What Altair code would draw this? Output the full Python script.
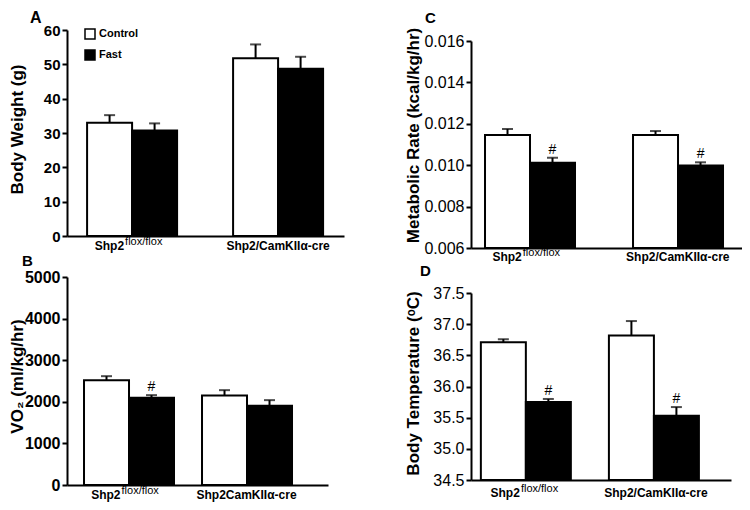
import altair as alt
import pandas as pd

FONT = "Liberation Sans"
conditions = ["Control", "Fast"]

# Panel A: body weight
a_groups = ["Shp2flox/flox", "Shp2/CamKIIα-cre"]
a_mean = [33.0, 30.7, 51.8, 48.7]
a_err = [2.2, 2.1, 4.0, 3.5]
a_sig = [0, 0, 0, 0]
a_ticks = [0, 10, 20, 30, 40, 50, 60]

# Panel C: metabolic rate
c_groups = ["Shp2flox/flox", "Shp2/CamKIIα-cre"]
c_mean = [0.01146, 0.01012, 0.01146, 0.00998]
c_err = [0.00029, 0.00024, 0.00019, 0.00016]
c_sig = [0, 1, 0, 1]
c_ticks = [0.006, 0.008, 0.010, 0.012, 0.014, 0.016]

# Panel B: VO2
b_groups = ["Shp2flox/flox", "Shp2CamKIIα-cre"]
b_mean = [2520, 2095, 2153, 1904]
b_err = [96, 65, 127, 136]
b_sig = [0, 1, 0, 0]
b_ticks = [0, 1000, 2000, 3000, 4000, 5000]

# Panel D: body temperature
d_groups = ["Shp2flox/flox", "Shp2/CamKIIα-cre"]
d_mean = [36.71, 35.75, 36.82, 35.53]
d_err = [0.05, 0.05, 0.23, 0.14]
d_sig = [0, 1, 0, 1]
d_ticks = [34.5, 35.0, 35.5, 36.0, 36.5, 37.0, 37.5]

# label pieces (main text + superscript)
a_main = ["Shp2", "Shp2/CamKIIα-cre"]
b_main = ["Shp2", "Shp2CamKIIα-cre"]
sup_text = ["flox/flox", ""]


def panel(letter, groups, mains, means, errs, sig, ticks, fmt, title,
          W, H, top, xs, leg, letpos, tpos, lab_w, lab_size, lab_dy):
    rows = []
    for gi, g in enumerate(groups):
        for ci, c in enumerate(conditions):
            k = gi * 2 + ci
            rows.append(dict(group=g, cond=c, mean=means[k],
                             upper=means[k] + errs[k],
                             mark="#" if sig[k] else ""))
    df = pd.DataFrame(rows)
    ymin, ymax = ticks[0], ticks[-1]
    xenc = alt.X("group:N", sort=groups,
                 scale=alt.Scale(paddingInner=xs[0], paddingOuter=xs[1], align=xs[2]),
                 axis=alt.Axis(title=None, labels=False, ticks=False, domain=True,
                               domainColor="black", domainWidth=2, grid=False))
    xoff = alt.XOffset("cond:N", sort=conditions,
                       scale=alt.Scale(paddingInner=0, paddingOuter=0))
    yscale = alt.Scale(domain=[ymin, ymax], range=[H, top], nice=False, zero=False)
    yaxis = alt.Axis(title=title, values=ticks, format=fmt, grid=False,
                     domainColor="black", domainWidth=2, tickColor="black",
                     tickWidth=2, tickSize=5, labelFont=FONT, labelFontSize=lab_size,
                     labelFontWeight=lab_w, labelColor="black", labelPadding=2,
                     titleFont=FONT, titleFontSize=17, titleFontWeight="bold",
                     titleColor="black", titleX=tpos[0], titleY=tpos[1],
                     titleBaseline="middle", titleAngle=270)
    base = alt.Chart(df)
    bars = base.mark_bar(stroke="black", strokeWidth=2).encode(
        x=xenc, xOffset=xoff,
        y=alt.Y("mean:Q", scale=yscale, axis=yaxis),
        y2=alt.datum(ymin),
        fill=alt.Fill("cond:N", sort=conditions,
                      scale=alt.Scale(domain=conditions, range=["white", "black"]),
                      legend=alt.Legend(orient="none", legendX=leg[0], legendY=leg[1],
                                        title=None, symbolType="square", symbolSize=100,
                                        symbolStrokeColor="black", symbolStrokeWidth=1.5,
                                        symbolOpacity=1, labelFont=FONT, labelFontSize=11,
                                        labelFontWeight="bold", labelColor="black",
                                        labelOffset=3, rowPadding=leg[2], padding=0)))
    whisk = base.mark_rule(color="black", strokeWidth=2).encode(
        x=xenc, xOffset=xoff,
        y=alt.Y("mean:Q", scale=yscale, axis=yaxis), y2="upper:Q")
    cap = base.mark_tick(color="black", thickness=2, size=11).encode(
        x=xenc, xOffset=xoff, y=alt.Y("upper:Q", scale=yscale, axis=yaxis))
    hashes = base.transform_filter("datum.mark != ''").mark_text(
        baseline="alphabetic", dy=-4, font=FONT, fontSize=14, color="black").encode(
        x=xenc, xOffset=xoff, y=alt.Y("upper:Q", scale=yscale, axis=yaxis),
        text="mark:N")
    ldf = pd.DataFrame({"group": groups, "main": mains, "sup": sup_text})
    lbase = alt.Chart(ldf)
    l1 = lbase.transform_filter(alt.datum.group == groups[0]).mark_text(
        align="right", dx=-8, baseline="alphabetic", font=FONT, fontSize=12,
        fontWeight="bold", color="black").encode(
        x=xenc, y=alt.value(H + lab_dy), text="main:N")
    l2 = lbase.transform_filter(alt.datum.group == groups[0]).mark_text(
        align="left", dx=-7, dy=-5, baseline="alphabetic", font=FONT, fontSize=11,
        color="black").encode(
        x=xenc, y=alt.value(H + lab_dy), text="sup:N")
    l3 = lbase.transform_filter(alt.datum.group == groups[1]).mark_text(
        align="center", baseline="alphabetic", font=FONT, fontSize=12,
        fontWeight="bold", color="black").encode(
        x=xenc, y=alt.value(H + lab_dy), text="main:N")
    let = alt.Chart(pd.DataFrame({"letter": [letter]})).mark_text(
        align="left", baseline="alphabetic", font=FONT, fontSize=letpos[2],
        fontWeight="bold", color="black").encode(
        x=alt.value(letpos[0]), y=alt.value(letpos[1]), text="letter:N")
    return alt.layer(bars, whisk, cap, hashes, l1, l2, l3, let).properties(
        width=W, height=H)


pA = panel("A", a_groups, a_main, a_mean, a_err, a_sig, a_ticks, "d", "Body Weight (g)",
           277, 206, 0, (0.3836, 0.1404, 0.49), (17, -2, 5), (-37, -7, 16),
           (-50, 99), "bold", 15, 14)
pC = panel("C", c_groups, a_main, c_mean, c_err, c_sig, c_ticks, ".3f",
           "Metabolic Rate (kcal/kg/hr)",
           276, 218, 11, (0.3953, 0.130, 0.364), (17, 19, 5), (-46, -7, 15),
           (-58, 105), "normal", 16, 13)
pB = panel("B", b_groups, b_main, b_mean, b_err, b_sig, b_ticks, "d", "VO₂ (ml/kg/hr)",
           261, 208, 0, (0.2458, 0.2288, 0.315), (20, 4, 7), (-45, -11, 15),
           (-50, 99), "bold", 16, 14)
pD = panel("D", d_groups, a_main, d_mean, d_err, d_sig, d_ticks, ".1f",
           "Body Temperature (ᵒC)",
           260, 203, 16, (0.2656, 0.148, 0.26), (15, 12, 6), (-51, -1, 15),
           (-58, 106), "normal", 16, 17)

chart = alt.concat(pA, pC, pB, pD, columns=2, spacing={"row": 29, "column": 127},
                   bounds="flush",
                   autosize=alt.AutoSizeParams(type="none"),
                   padding={"left": 59, "top": 22, "right": 675, "bottom": 472}
                   ).configure_view(stroke=None)

chart.save("out.html", embed_options={"renderer": "svg", "actions": False})
